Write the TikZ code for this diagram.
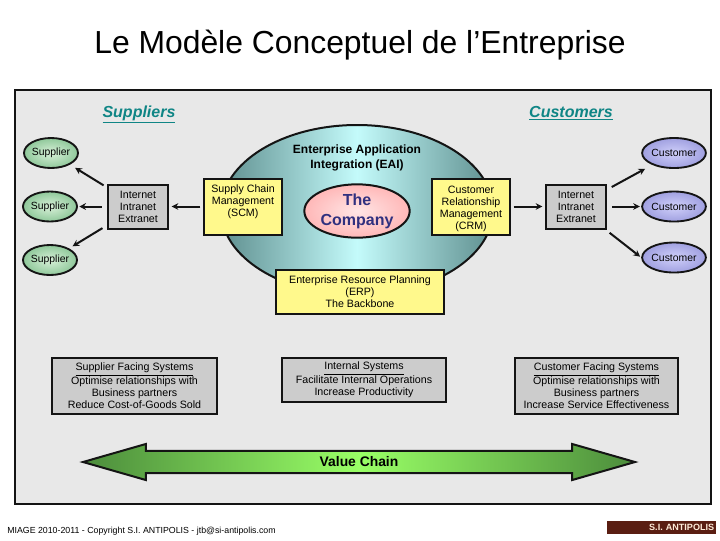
\documentclass[tikz,border=0pt]{standalone}
\usepackage{fontspec}
\setmainfont{Liberation Sans}
\usetikzlibrary{arrows.meta,shapes.arrows,shapes.geometric}
\definecolor{panelbg}{HTML}{E8E8E8}
\definecolor{ink2}{HTML}{141414}
\definecolor{teal2}{HTML}{0F8585}
\definecolor{compink}{HTML}{30307F}
\definecolor{eaidark}{HTML}{5F8F8F}
\definecolor{eailight}{HTML}{C4FBFB}
\definecolor{chaindark}{HTML}{4C8C3C}
\definecolor{chainlight}{HTML}{99FF66}
\definecolor{logobrown}{HTML}{5A1E12}

\begin{document}
\begin{tikzpicture}[x=0.75pt, y=-0.75pt,
  box/.style={draw=ink2, line width=1.5pt, align=center, font=\fontsize{8}{9}\selectfont, inner sep=0pt},
  ybox/.style={box, fill=yellow!45!white},
  gbox/.style={box, fill=black!20},
  oval/.style={ellipse, draw=ink2, line width=1.4pt, minimum width=40.5pt, minimum height=22.5pt, inner sep=0pt, font=\fontsize{7.8}{9}\selectfont},
  sup/.style={oval, inner color={rgb,255:red,216;green,240;blue,216}, outer color={rgb,255:red,143;green,200;blue,154}},
  cust/.style={oval, inner color={rgb,255:red,208;green,208;blue,250}, outer color={rgb,255:red,160;green,160;blue,224}},
  head/.style={font=\fontsize{12}{14}\selectfont\bfseries\itshape, text=teal2, anchor=base},
  arr/.style={-{Stealth[length=5pt,width=5pt]}, line width=1.5pt, ink2}]
\useasboundingbox (0,0) rectangle (720,540);
\node[font=\fontsize{23.9}{28}\selectfont] (title) at (360,45) {Le Modèle Conceptuel de l’Entreprise};
\node[draw=ink2, line width=1.5pt, fill=panelbg, minimum width=522pt, minimum height=310.5pt, inner sep=0pt] (panel) at (363,297) {};
\node[head] (suppliers) at (139,117) {\underline{Suppliers}};
\node[head] (customers) at (571,117) {\underline{Customers}};
\node[ellipse, draw=ink2, line width=1.5pt, minimum width=204pt, minimum height=127.5pt, left color=eaidark, right color=eaidark, middle color=eailight] (eai) at (357,210) {};
\node[align=center, font=\fontsize{9}{11}\selectfont\bfseries] (eailab) at (357,158) {Enterprise Application\\Integration (EAI)};
\node[ellipse, draw=ink2, line width=1.5pt, minimum width=79pt, minimum height=40pt, inner sep=0pt, inner color=red!10!white, outer color=red!28!white, align=center, text=compink, font=\fontsize{12}{15}\selectfont\bfseries] (company) at (357,211) {The\\Company};
% left side
\node[sup] (supa) at (51,153) {Supplier};
\node[sup] (supb) at (50,206.5) {Supplier};
\node[sup] (supc) at (50,260) {Supplier};
\node[gbox, minimum width=45pt, minimum height=33pt] (netl) at (138,206.5) {Internet\\Intranet\\Extranet};
\node[ybox, minimum width=58.5pt, minimum height=42pt] (scm) at (243,206.5) {Supply Chain\\Management\\(SCM)\\\mbox{}};
% right side
\node[ybox, minimum width=58.5pt, minimum height=42pt] (crm) at (471,206.5) {\rule{0pt}{9pt}Customer\\Relationship\\Management\\(CRM)};
\node[gbox, minimum width=45pt, minimum height=33pt] (netr) at (576,206.5) {Internet\\Intranet\\Extranet};
\node[cust] (cusa) at (674,153) {Customer};
\node[cust] (cusb) at (674,206.5) {Customer};
\node[cust] (cusc) at (674,257.5) {Customer};
% lower boxes
\node[ybox, minimum width=126pt, minimum height=33pt] (erp) at (360,292) {Enterprise Resource Planning\\(ERP)\\The Backbone};
\node[gbox, minimum width=124pt, minimum height=42pt] (sfs) at (134.5,386) {\underline{Supplier Facing Systems}\\Optimise relationships with\\Business partners\\Reduce Cost-of-Goods Sold};
\node[gbox, minimum width=123pt, minimum height=33pt] (ints) at (364,380) {\underline{Internal Systems}\\Facilitate Internal Operations\\Increase Productivity};
\node[gbox, minimum width=122pt, minimum height=42pt] (cfs) at (596.5,386) {\underline{Customer Facing Systems}\\Optimise relationships with\\Business partners\\Increase Service Effectiveness};
\node[double arrow, draw=ink2, line width=1.5pt, minimum width=27pt, minimum height=414pt, double arrow head extend=4pt, double arrow tip angle=32, inner sep=2pt, left color=chaindark, right color=chaindark, middle color=chainlight, font=\fontsize{10.4}{12}\selectfont\bfseries] (chain) at (359,462) {Value Chain};
\draw[arr, shorten <=3pt, shorten >=4.5pt] (netl) -- (supa);
\draw[arr, shorten <=4pt, shorten >=1pt] (netl) -- (supb);
\draw[arr, shorten <=4pt, shorten >=3pt] (netl) -- (supc);
\draw[arr, shorten <=2pt, shorten >=2pt] (scm) -- (netl);
\draw[arr, shorten <=2pt, shorten >=2pt] (crm) -- (netr);
\draw[arr, shorten <=4pt, shorten >=6pt] (netr) -- (cusa);
\draw[arr, shorten <=4pt, shorten >=1pt] (netr) -- (cusb);
\draw[arr, shorten <=4pt, shorten >=1pt] (netr) -- (cusc.west);
% footer
\node[anchor=west, inner sep=0pt, font=\fontsize{6.6}{8}\selectfont] (foot) at (7,531) {MIAGE 2010-2011 - Copyright S.I. ANTIPOLIS - jtb@si-antipolis.com};
\node[minimum width=82pt, minimum height=10pt, inner sep=0pt, fill=logobrown, text=orange!15!white, font=\fontsize{6.8}{8}\selectfont\bfseries, align=right, text width=79pt] (logo) at (661.5,527.5) {S.I. ANTIPOLIS};
\end{tikzpicture}
\end{document}
